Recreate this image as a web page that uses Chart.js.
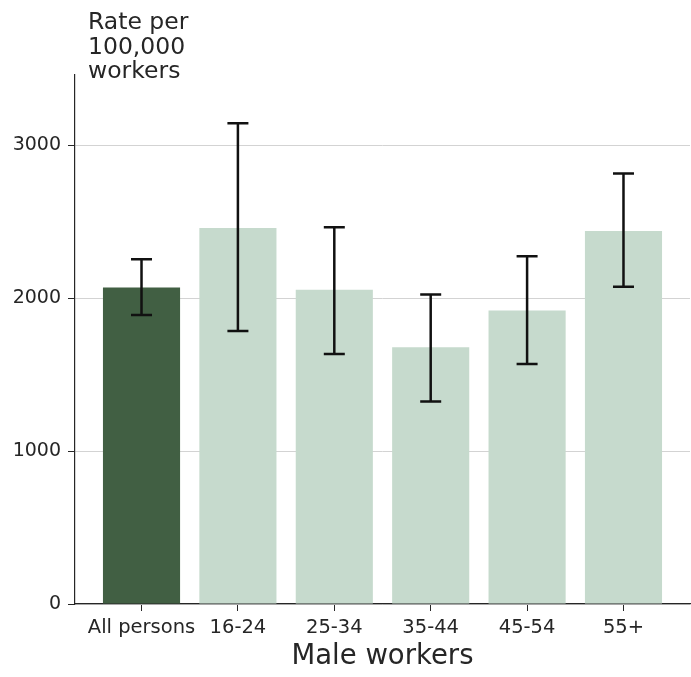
<!DOCTYPE html>
<html>
<head>
<meta charset="utf-8">
<script src="https://cdn.jsdelivr.net/npm/chart.js@4.4.0/dist/chart.umd.min.js"></script>
<style>
  html, body { margin: 0; padding: 0; background: #fff; }
  #wrap { width: 691px; height: 677px; }
</style>
</head>
<body>
<div id="wrap"><canvas id="c"></canvas></div>
<script>
const categories = ['All persons', '16-24', '25-34', '35-44', '45-54', '55+'];
const rates = [2070, 2460, 2055, 1680, 1920, 2440];
const lowerCI = [1890, 1785, 1635, 1325, 1570, 2075];
const upperCI = [2255, 3145, 2465, 2025, 2275, 2815];
const yTicks = [0, 1000, 2000, 3000];
const yTitle = ['Rate per', '100,000', 'workers'];

const FONT = '"DejaVu Sans", sans-serif';
const TEXT = '#262626';

// error bars + y title drawn on top of the bars
const errorBars = {
    id: 'errorBars',
    afterDatasetsDraw(chart) {
        const { ctx, scales: { x, y } } = chart;
        ctx.save();
        ctx.strokeStyle = '#111';
        ctx.lineWidth = 2.5;
        categories.forEach((c, i) => {
            const px = x.getPixelForValue(i);
            const lo = y.getPixelForValue(lowerCI[i]);
            const hi = y.getPixelForValue(upperCI[i]);
            ctx.beginPath();
            ctx.moveTo(px, lo); ctx.lineTo(px, hi);
            ctx.moveTo(px - 10.5, lo); ctx.lineTo(px + 10.5, lo);
            ctx.moveTo(px - 10.5, hi); ctx.lineTo(px + 10.5, hi);
            ctx.stroke();
        });
        ctx.restore();
    },
    afterDraw(chart) {
        const { ctx, chartArea } = chart;
        ctx.save();
        ctx.font = '23.5px ' + FONT;
        ctx.fillStyle = TEXT;
        ctx.textAlign = 'left';
        ctx.textBaseline = 'alphabetic';
        yTitle.forEach((line, i) => {
            ctx.fillText(line, chartArea.left + 13, 29 + i * 24.5);
        });
        ctx.restore();
    }
};

new Chart(document.getElementById('c'), {
    type: 'bar',
    data: {
        datasets: [{
            data: rates.map((v, i) => ({ x: i, y: v })),
            backgroundColor: categories.map((c, i) => i === 0 ? '#415f43' : '#c6dacd'),
            borderWidth: 0,
            barPercentage: 0.8,
            categoryPercentage: 1
        }]
    },
    options: {
        responsive: true,
        maintainAspectRatio: false,
        animation: false,
        layout: { padding: { top: 75, right: 1, left: 0, bottom: 0 } },
        plugins: {
            legend: { display: false },
            tooltip: { enabled: false }
        },
        scales: {
            x: {
                type: 'linear',
                offset: false,
                min: -0.69,
                max: 5.69,
                afterBuildTicks: s => { s.ticks = categories.map((c, i) => ({ value: i })); },
                afterFit: s => { s.height = 73; },
                ticks: {
                    callback: v => categories[v],
                    color: TEXT,
                    font: { family: FONT, size: 19.5 },
                    padding: 5,
                    maxRotation: 0,
                    autoSkip: false
                },
                grid: { offset: false, drawOnChartArea: false, drawTicks: true, tickLength: 7, tickColor: TEXT },
                border: { color: TEXT, width: 1.2 },
                title: {
                    display: true,
                    text: 'Male workers',
                    color: TEXT,
                    font: { family: FONT, size: 27.5 },
                    padding: { top: 0, bottom: 4 }
                }
            },
            y: {
                min: 0,
                max: 3460,
                afterBuildTicks: s => { s.ticks = yTicks.map(v => ({ value: v })); },
                afterFit: s => { s.width = 75; },
                ticks: {
                    callback: v => String(v),
                    color: TEXT,
                    font: { family: FONT, size: 19 },
                    padding: 7
                },
                grid: { color: '#d3d3d3', lineWidth: 1, tickLength: 7, tickColor: TEXT },
                border: { color: TEXT, width: 1.2 }
            }
        }
    },
    plugins: [errorBars]
});
</script>
</body>
</html>
